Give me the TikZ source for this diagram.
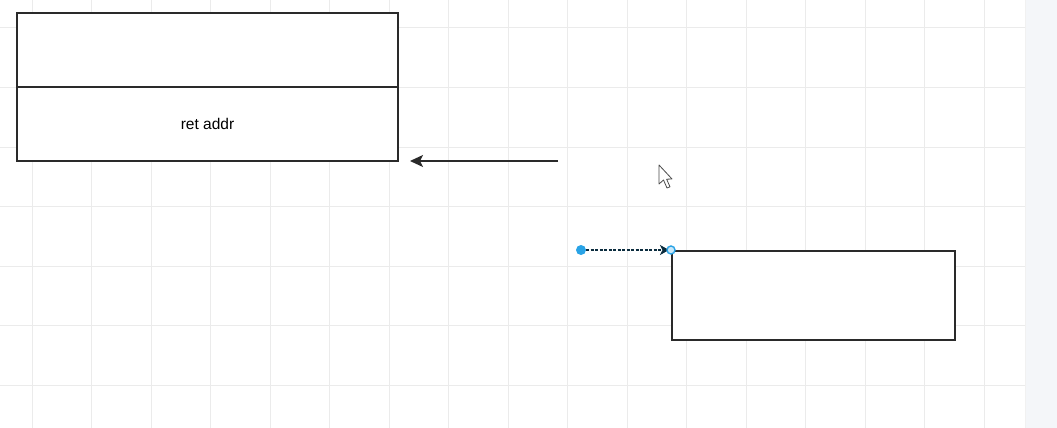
\documentclass[tikz,border=0pt]{standalone}
\usepackage{fontspec}
\setmainfont{Liberation Sans}
\usetikzlibrary{arrows.meta}
\definecolor{gridc}{HTML}{EBEBEB}
\definecolor{panel}{HTML}{F4F6F9}
\definecolor{selblue}{HTML}{29A3E6}
\definecolor{edgec}{HTML}{2A2A2A}
\tikzset{
  box/.style={draw=edgec, line width=1.1pt, fill=white, inner sep=0pt, outer sep=0pt},
  conn/.style={draw=edgec, line width=1.4pt},
}
\begin{document}
\begin{tikzpicture}[x=1pt,y=-1pt]
\useasboundingbox (0,0) rectangle (1057,428);
\fill[white] (0,0) rectangle (1057,428);
% grid
\foreach \gx in {32,91.5,151,210.5,270,329.5,389,448.5,508,567.5,627,686.5,746,805.5,865,924.5,984}
  \draw[gridc, line width=1pt] (\gx,0) -- (\gx,428);
\foreach \gy in {28,87.5,147,206.5,266,325.5,385}
  \draw[gridc, line width=1pt] (0,\gy) -- (1025,\gy);
% right panel
\fill[panel] (1025,0) rectangle (1057,428);
\draw[gridc!70!white, line width=0.6pt] (1025,0) -- (1025,428);
% stack frame
\node[box, minimum width=381pt, minimum height=74pt, anchor=north west] (top) at (17,13) {};
\node[box, minimum width=381pt, minimum height=74pt, anchor=north west, font=\fontsize{15.5}{18}\selectfont] (ret) at (17,87) {ret addr};
% arrow to frame
\coordinate (a1) at (558,161);
\draw[conn, -{Stealth[length=13pt,width=12pt,inset=3pt]}] (a1) -- ([xshift=12pt]ret.south east);
% second box
\node[box, minimum width=283pt, minimum height=89pt, anchor=north west] (box2) at (672,251) {};
% selected connector
\node[circle, fill=selblue, inner sep=0pt, minimum size=10pt] (dot) at (581,250) {};
\coordinate (end2) at ([xshift=-3pt]box2.north west |- dot);
\draw[black!55!selblue!60!black, line width=1.4pt, dash pattern=on 3pt off 1.5pt, -{Stealth[length=9pt,width=10pt,inset=2.5pt]}] (dot.east) -- (end2);
\node[circle, draw=selblue, fill=selblue!25!white, line width=1.4pt, inner sep=0pt, minimum size=8pt] (hdl) at (671,250) {};
% mouse cursor
\draw[black!70, fill=white, line width=0.8pt, line join=round]
  (659,165) -- (659,184) -- (663.5,180) -- (667,188) -- (670,186.8) -- (666.6,179.2) -- (672,179) -- cycle;
\end{tikzpicture}
\end{document}
